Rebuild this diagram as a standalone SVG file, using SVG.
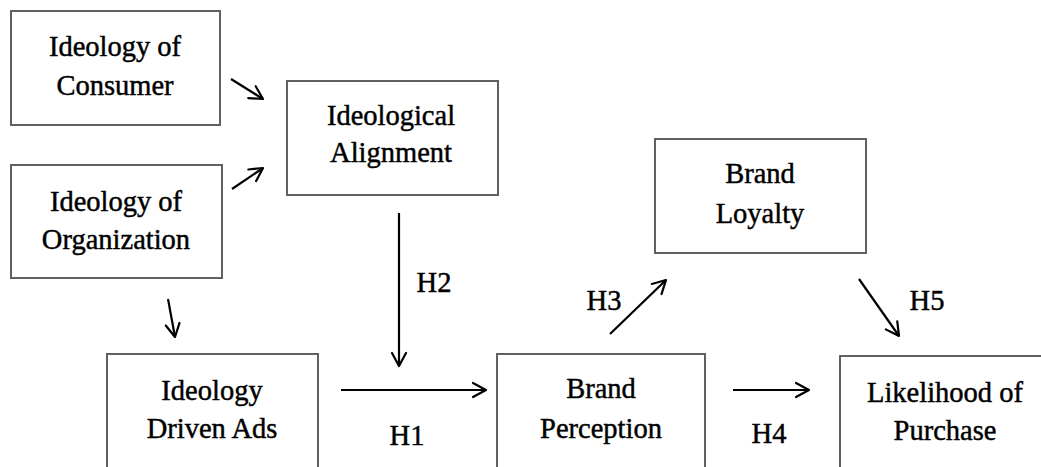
<svg xmlns="http://www.w3.org/2000/svg" width="1041" height="467" viewBox="0 0 1041 467">
<style>
.box{fill:#ffffff;stroke:#606060;stroke-width:2}
.t{font-family:"Liberation Serif","Times New Roman",serif;font-size:28.5px;fill:#000;stroke:#000;stroke-width:0.45;text-anchor:middle}
.c{fill:none;stroke:#000;stroke-width:2.2}
</style>
<defs>
<marker id="ah" markerUnits="userSpaceOnUse" markerWidth="18" markerHeight="18" refX="15" refY="9" orient="auto" viewBox="0 0 18 18">
<path d="M2,2 L15,9 L2,16" fill="none" stroke="#000" stroke-width="2.2" stroke-linecap="round" stroke-linejoin="round"/>
</marker>
</defs>
<rect width="1041" height="467" fill="#ffffff"/>
<g id="consumer">
<rect class="box" x="11" y="11" width="209" height="114"/>
<text class="t" x="115" y="56">Ideology of</text>
<text class="t" x="115" y="95">Consumer</text>
</g>
<g id="organization">
<rect class="box" x="11" y="165" width="211" height="113"/>
<text class="t" x="116" y="211">Ideology of</text>
<text class="t" x="116" y="249">Organization</text>
</g>
<g id="alignment">
<rect class="box" x="287" y="81" width="211" height="114"/>
<text class="t" x="391" y="125">Ideological</text>
<text class="t" x="391" y="162">Alignment</text>
</g>
<g id="ads">
<rect class="box" x="107" y="354" width="211" height="130"/>
<text class="t" x="212" y="400">Ideology</text>
<text class="t" x="212" y="438">Driven Ads</text>
</g>
<g id="perception">
<rect class="box" x="497" y="354" width="208" height="130"/>
<text class="t" x="601" y="398">Brand</text>
<text class="t" x="601" y="438">Perception</text>
</g>
<g id="loyalty">
<rect class="box" x="655" y="139" width="211" height="114"/>
<text class="t" x="760" y="183">Brand</text>
<text class="t" x="760" y="223">Loyalty</text>
</g>
<g id="likelihood">
<rect class="box" x="840" y="356" width="220" height="130"/>
<text class="t" x="945" y="402">Likelihood of</text>
<text class="t" x="945" y="440">Purchase</text>
</g>
<g id="connectors">
<line class="c" x1="231" y1="79" x2="263" y2="99" marker-end="url(#ah)"/>
<line class="c" x1="232" y1="189" x2="263" y2="168" marker-end="url(#ah)"/>
<line class="c" x1="168" y1="299" x2="175" y2="337" marker-end="url(#ah)"/>
<line class="c" x1="399" y1="213" x2="399" y2="366" marker-end="url(#ah)"/>
<line class="c" x1="341" y1="390" x2="486" y2="390" marker-end="url(#ah)"/>
<line class="c" x1="610" y1="334" x2="666" y2="280" marker-end="url(#ah)"/>
<line class="c" x1="859" y1="279" x2="899" y2="336" marker-end="url(#ah)"/>
<line class="c" x1="733" y1="390" x2="809" y2="390" marker-end="url(#ah)"/>
<text class="t" x="407" y="445">H1</text>
<text class="t" x="434" y="292">H2</text>
<text class="t" x="604" y="310">H3</text>
<text class="t" x="769" y="443">H4</text>
<text class="t" x="927" y="310">H5</text>
</g>
</svg>
